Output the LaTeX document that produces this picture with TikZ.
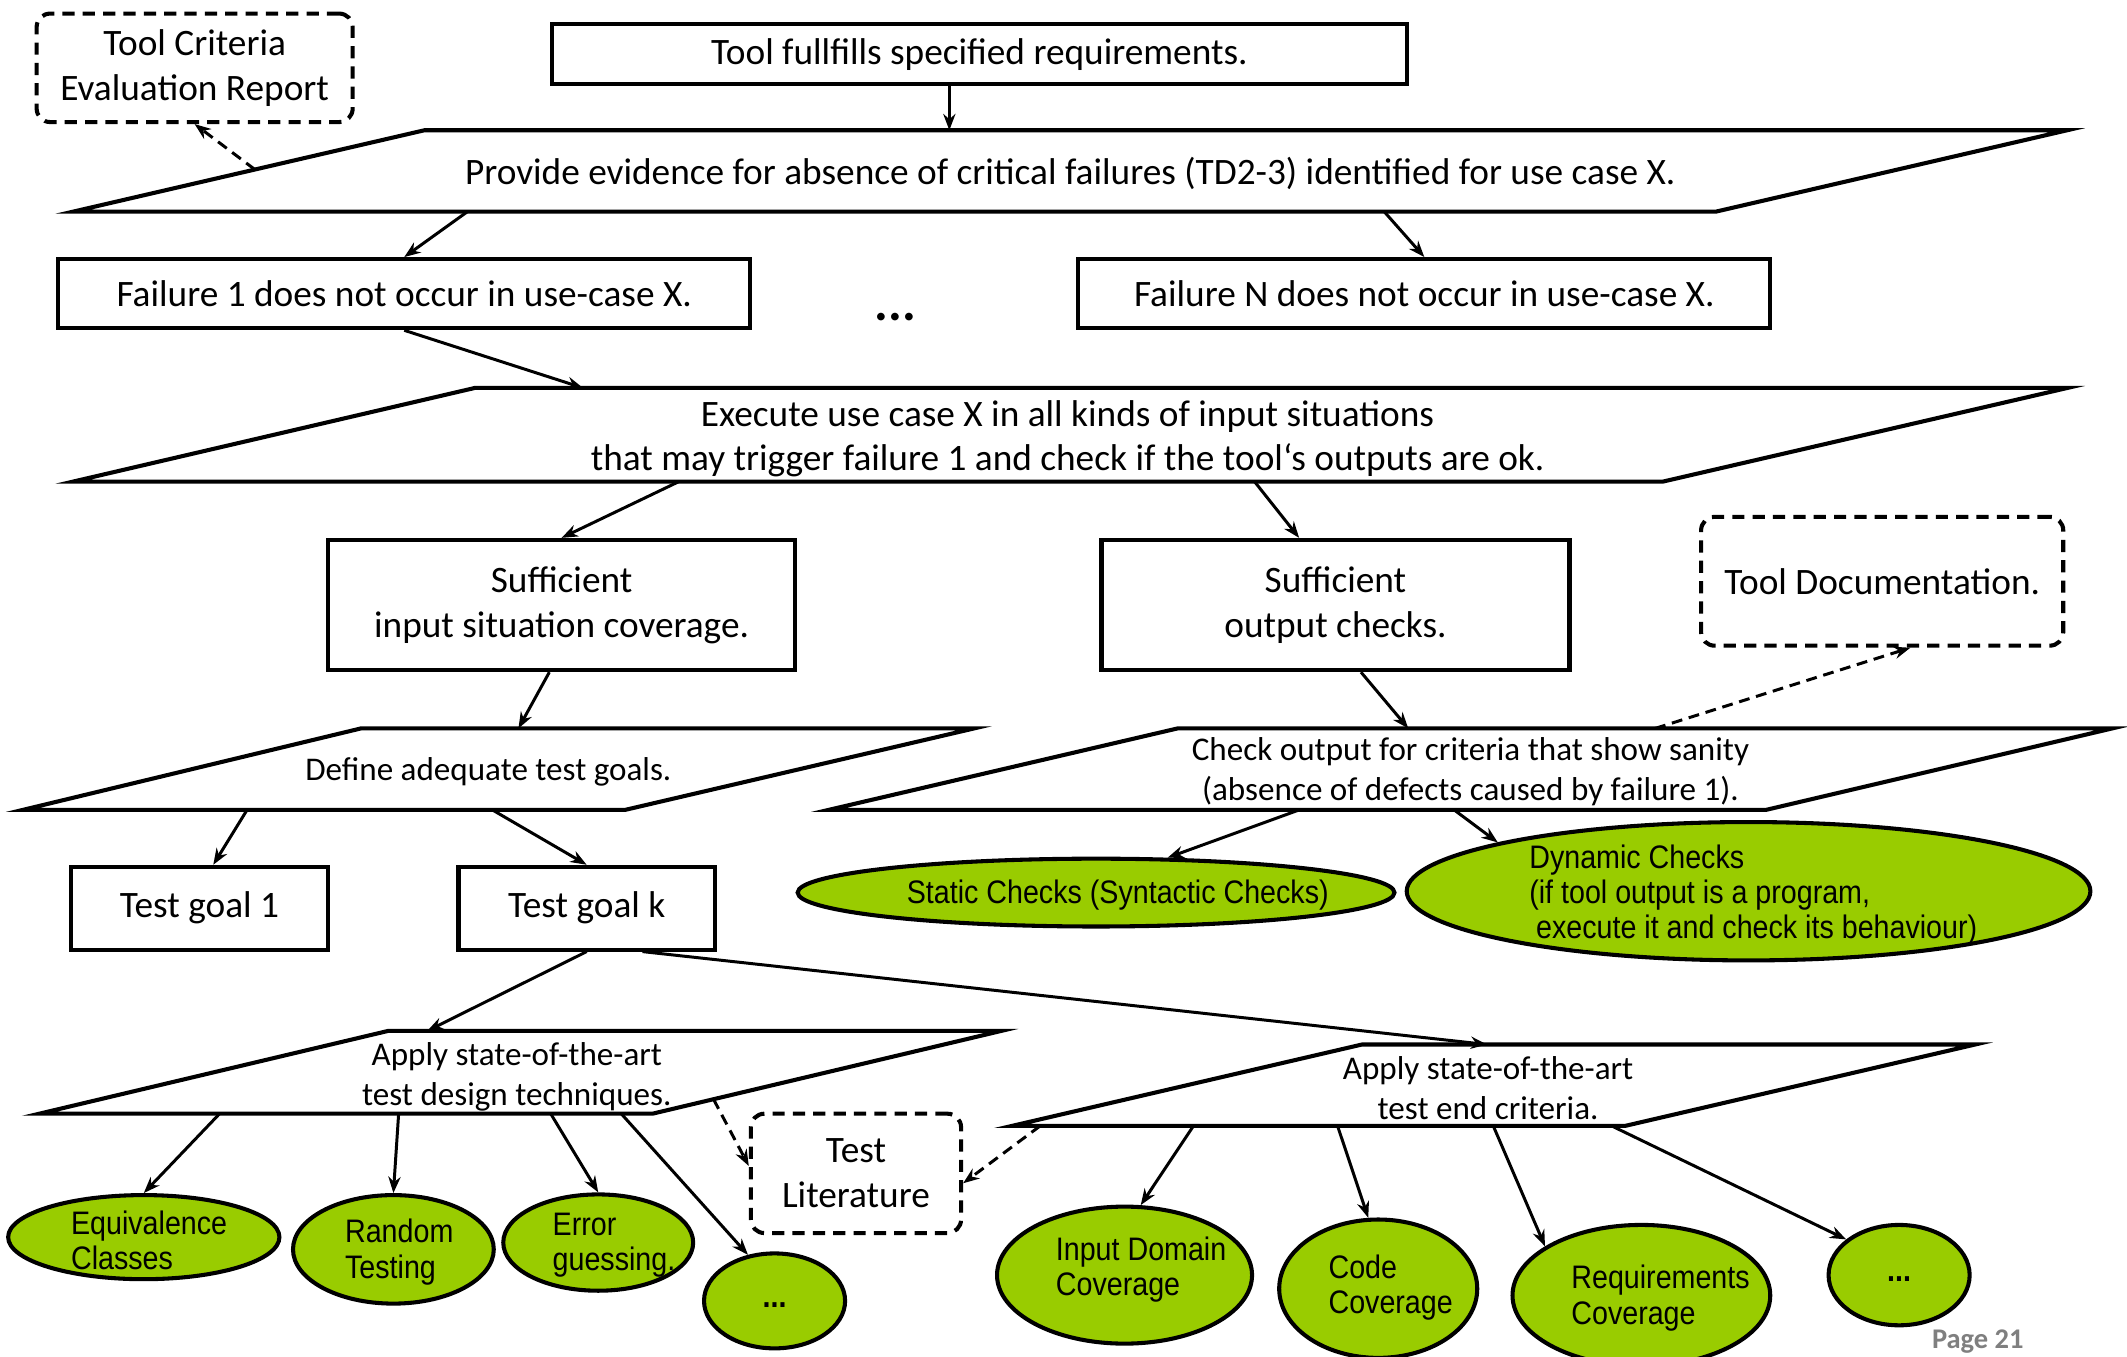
\documentclass[tikz,border=0pt]{standalone}
\usepackage{fontspec}
\setmainfont{Carlito}
\newfontfamily\ellfont[FakeStretch=0.88]{Liberation Sans}
\usetikzlibrary{shapes.geometric,arrows.meta,calc}
\definecolor{leaf}{HTML}{99CC00}
\definecolor{pagegray}{HTML}{7F7F7F}

\begin{document}
\begin{tikzpicture}[x=0.5pt,y=-0.5pt,
  box/.style={draw, line width=1.5pt, inner sep=0pt, align=center, font=\fontsize{13.75}{16.5}\selectfont},
  note/.style={box, dash pattern=on 4.5pt off 3pt, rounded corners=5pt},
  para/.style={draw, line width=1.5pt, line join=miter},
  ptl/.style={inner sep=0pt, align=center, yshift=-1pt, font=\fontsize{13.75}{16.5}\selectfont},
  pts/.style={inner sep=0pt, align=center, yshift=-1pt, font=\fontsize{12.2}{14.75}\selectfont},
  leafnode/.style={ellipse, draw, line width=1.5pt, fill=leaf, inner sep=0pt},
  leaftext/.style={inner sep=0pt, align=left, yshift=-1pt, font=\ellfont\fontsize{12}{13}\selectfont},
  arr/.style={line width=1.1pt, -{Stealth[length=6pt,width=4.5pt]}},
  darr/.style={arr, dash pattern=on 4pt off 2.5pt},
]
\fill[white] (0,0) rectangle (1568,1000);
\useasboundingbox (0,0) rectangle (1568,1000);

% ---------- top level ----------
\node[box, minimum width=315pt, minimum height=22pt] (top) at (722,40) {Tool fullfills specified requirements.};
\node[note, minimum width=116.5pt, minimum height=40pt] (tcer) at (143.5,50) {Tool Criteria\\Evaluation Report};

\coordinate (p1-bl) at (54,156);  \coordinate (p1-br) at (1265,156);
\coordinate (p1-tr) at (1524,96); \coordinate (p1-tl) at (313,96);
\draw[para] (p1-bl) -- (p1-br) -- (p1-tr) -- (p1-tl) -- cycle;
\node[ptl] (p1) at (789,126) {Provide evidence for absence of critical failures (TD2-3) identified for use case X.};

\node[box, minimum width=255pt, minimum height=25.5pt] (f1) at (298,216.5) {Failure 1 does not occur in use-case X.};
\node[box, minimum width=255pt, minimum height=25.5pt] (fN) at (1050,216.5) {Failure N does not occur in use-case X.};
\node[inner sep=0pt, anchor=base, font=\fontsize{19}{19}\selectfont\bfseries] (gap) at (660,236) {...};

\coordinate (p2-bl) at (54,355);  \coordinate (p2-br) at (1226,355);
\coordinate (p2-tr) at (1524,286); \coordinate (p2-tl) at (350,286);
\draw[para] (p2-bl) -- (p2-br) -- (p2-tr) -- (p2-tl) -- cycle;
\node[ptl] (p2) at (787,321.5) {Execute use case X in all kinds of input situations\\that may trigger failure 1 and check if the tool‘s outputs are ok.};

% ---------- coverage / checks ----------
\node[box, minimum width=172pt, minimum height=48pt] (sic) at (414,446) {Sufficient\\input situation coverage.};
\node[box, minimum width=172.5pt, minimum height=48pt] (soc) at (984.5,446) {Sufficient\\output checks.};
\node[note, minimum width=133.5pt, minimum height=47.5pt] (tdoc) at (1387.5,428.5) {Tool Documentation.};

\coordinate (p3-bl) at (17,597);  \coordinate (p3-br) at (461,597);
\coordinate (p3-tr) at (718,537); \coordinate (p3-tl) at (266,537);
\draw[para] (p3-bl) -- (p3-br) -- (p3-tr) -- (p3-tl) -- cycle;
\node[pts] (p3) at (360,567) {Define adequate test goals.};

\coordinate (p4-bl) at (611,597);  \coordinate (p4-br) at (1302,597);
\coordinate (p4-tr) at (1557,537); \coordinate (p4-tl) at (868,537);
\draw[para] (p4-bl) -- (p4-br) -- (p4-tr) -- (p4-tl) -- cycle;
\node[pts] (p4) at (1084,567) {Check output for criteria that show sanity\\(absence of defects caused by failure 1).};

\node[box, minimum width=95pt, minimum height=30.5pt] (tg1) at (147,669.5) {Test goal 1};
\node[box, minimum width=94.5pt, minimum height=30.5pt] (tgk) at (432.5,669.5) {Test goal k};

\node[leafnode, minimum width=220pt, minimum height=25pt] (st) at (808,658) {};
\node[leaftext] (st-t) at (824,658) {Static Checks (Syntactic Checks)};
\node[leafnode, minimum width=252pt, minimum height=51pt] (dyn) at (1289,657) {};
\node[leaftext, anchor=west] (dyn-t) at (1127,658) {Dynamic Checks\\(if tool output is a program,\\\hspace*{2.5pt}execute it and check its behaviour)};

% ---------- techniques and end criteria ----------
\coordinate (p5-bl) at (29,821);  \coordinate (p5-br) at (481,821);
\coordinate (p5-tr) at (738,760); \coordinate (p5-tl) at (286,760);
\draw[para] (p5-bl) -- (p5-br) -- (p5-tr) -- (p5-tl) -- cycle;
\node[pts] (p5) at (381,791.5) {Apply state-of-the-art\\test design techniques.};

\coordinate (p6-bl) at (746,830);  \coordinate (p6-br) at (1198,830);
\coordinate (p6-tr) at (1456,770); \coordinate (p6-tl) at (1004,770);
\draw[para] (p6-bl) -- (p6-br) -- (p6-tr) -- (p6-tl) -- cycle;
\node[pts] (p6) at (1097,800.5) {Apply state-of-the-art\\test end criteria.};

\node[note, minimum width=77.5pt, minimum height=44pt] (tlit) at (631,865) {Test\\Literature};

\node[leafnode, minimum width=100pt, minimum height=31pt] (eq) at (106,912) {};
\node[leaftext, anchor=west] (eq-t) at (52,912.5) {Equivalence\\Classes};
\node[leafnode, minimum width=74pt, minimum height=40pt] (rn) at (290,921) {};
\node[leaftext, anchor=west] (rn-t) at (254,921) {Random\\Testing};
\node[leafnode, minimum width=70pt, minimum height=35.5pt] (er) at (441,916) {};
\node[leaftext, anchor=west] (er-t) at (407,916) {Error\\guessing.};
\node[leafnode, minimum width=52pt, minimum height=35pt] (dl) at (571,959) {};
\node[leaftext, font=\ellfont\fontsize{12}{13}\selectfont\bfseries] (dl-t) at (571,960) {...};

\node[leafnode, minimum width=94pt, minimum height=50.5pt] (in) at (829,940) {};
\node[leaftext, anchor=west] (in-t) at (778,934) {Input Domain\\Coverage};
\node[leafnode, minimum width=73pt, minimum height=51pt] (cd) at (1016,950) {};
\node[leaftext, anchor=west] (cd-t) at (979,947) {Code\\Coverage};
\node[leafnode, minimum width=95pt, minimum height=52pt] (rq) at (1210,955) {};
\node[leaftext, anchor=west] (rq-t) at (1158,955) {Requirements\\Coverage};
\node[leafnode, minimum width=52pt, minimum height=37pt] (dr) at (1400,940) {};
\node[leaftext, font=\ellfont\fontsize{12}{13}\selectfont\bfseries] (dr-t) at (1400,941) {...};

\node[inner sep=0pt, text=pagegray, font=\fontsize{10.5}{12}\selectfont\bfseries] (page) at (1458,989) {Page 21};

% ---------- connectors ----------
\coordinate (top-out) at ($(top.south west)!0.465!(top.south east)$);
\draw[arr] (top-out) -- (top-out |- p1-tl);
\draw[darr] ($(p1-bl)!0.517!(p1-tl)$) -- (tcer.south);
\draw[arr] ($(p1-bl)!0.240!(p1-br)$) -- (f1.north);
\draw[arr] ($(p1-bl)!0.798!(p1-br)$) -- (fN.north);
\draw[arr] (f1.south) -- ($(p2-tl)!0.068!(p2-tr)$);
\draw[arr] ($(p2-bl)!0.381!(p2-br)$) -- (sic.north);
\draw[arr] ($(p2-bl)!0.743!(p2-br)$) -- ($(soc.north west)!0.423!(soc.north east)$);
\draw[arr] ($(sic.south west)!0.474!(sic.south east)$) -- ($(p3-tl)!0.257!(p3-tr)$);
\draw[arr] ($(soc.south west)!0.554!(soc.south east)$) -- ($(p4-tl)!0.247!(p4-tr)$);
\draw[darr] ($(p4-tl)!0.511!(p4-tr)$) -- ($(tdoc.south west)!0.577!(tdoc.south east)$);
\draw[arr] ($(p3-bl)!0.372!(p3-br)$) -- ($(tg1.north west)!0.553!(tg1.north east)$);
\draw[arr] ($(p3-bl)!0.779!(p3-br)$) -- (tgk.north);
\draw[arr] ($(p4-bl)!0.502!(p4-br)$) -- (st.26);
\draw[arr] ($(p4-bl)!0.667!(p4-br)$) -- (dyn.169);
\draw[arr] (tgk.south) -- ($(p5-tl)!0.064!(p5-tr)$);
\draw[arr] ($(tgk.south west)!0.714!(tgk.south east)$) -- ($(p6-tl)!0.204!(p6-tr)$);
\draw[arr] ($(p5-bl)!0.294!(p5-br)$) -- (eq.north);
\draw[arr] ($(p5-bl)!0.586!(p5-br)$) -- (rn.north);
\draw[arr] ($(p5-bl)!0.834!(p5-br)$) -- (er.north);
\draw[arr] ($(p5-bl)!0.949!(p5-br)$) -- (dl.120);
\draw[darr] ($(p5-br)!0.175!(p5-tr)$) -- ($(tlit.north west)!0.44!(tlit.south west)$);
\draw[darr] ($(p6-bl)!0.046!(p6-br)$) -- ($(tlit.north east)!0.58!(tlit.south east)$);
\draw[arr] ($(p6-bl)!0.296!(p6-br)$) -- (in.77);
\draw[arr] ($(p6-bl)!0.531!(p6-br)$) -- (cd.98);
\draw[arr] ($(p6-bl)!0.785!(p6-br)$) -- (rq.153);
\draw[arr] ($(p6-bl)!0.978!(p6-br)$) -- (dr.146);
\end{tikzpicture}
\end{document}
